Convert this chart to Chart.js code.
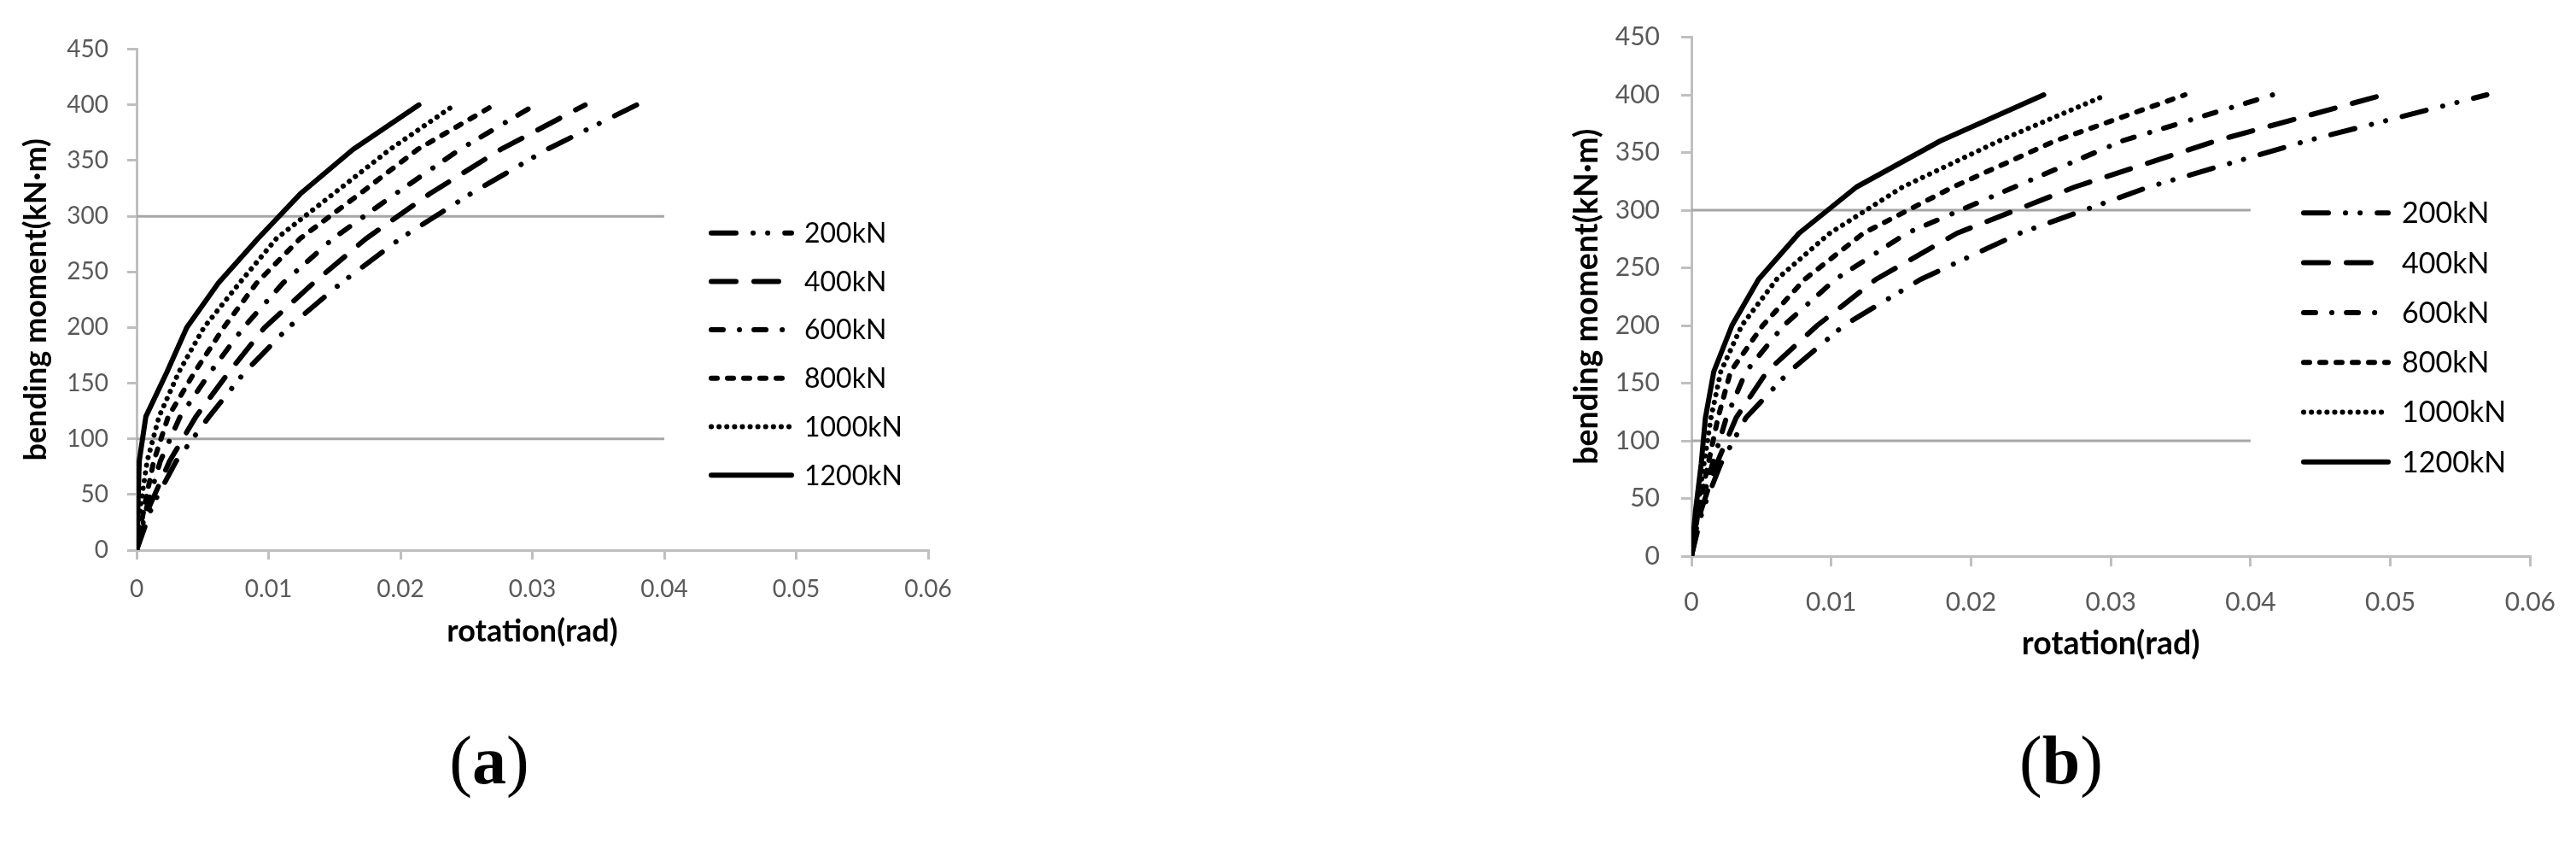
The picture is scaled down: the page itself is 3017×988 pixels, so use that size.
<!DOCTYPE html>
<html>
<head>
<meta charset="utf-8">
<script src="https://cdn.jsdelivr.net/npm/chart.js@4.4.1/dist/chart.umd.min.js"></script>
<style>
  html, body { margin: 0; padding: 0; background: #fff; }
  #page { position: relative; width: 3017px; height: 988px; overflow: hidden; background: #fff; }
  canvas { position: absolute; }
  .tag { position: absolute; font-family: 'Liberation Serif', serif; font-size: 80px; line-height: 1; transform: translate(-50%, -50%); color: #000; }
</style>
</head>
<body>
<div id="page">
  <canvas id="chartA" width="1160" height="770" style="left:0;top:0;width:1160px;height:770px"></canvas>
  <canvas id="chartB" width="1197" height="790" style="left:1820px;top:0;width:1197px;height:790px"></canvas>
  <div class="tag" style="left:573px;top:890px">(<b>a</b>)</div>
  <div class="tag" style="left:2414px;top:890px">(<b>b</b>)</div>
</div>
<script>
// bending moment levels shared by every curve (kN·m)
const momentLevels = [0, 40, 80, 120, 160, 200, 240, 280, 320, 360, 400];
const loadLabels = ['200kN', '400kN', '600kN', '800kN', '1000kN', '1200kN'];

// rotation (rad)
const rotA200 = [0, 0.0012, 0.0030, 0.0055, 0.0082, 0.0115, 0.0155, 0.0200, 0.0253, 0.0311, 0.0379];
const rotA400 = [0, 0.0010, 0.0025, 0.0045, 0.0070, 0.0097, 0.0134, 0.0174, 0.0222, 0.0276, 0.0340];
const rotA600 = [0, 0.0008, 0.0018, 0.0033, 0.0056, 0.0081, 0.0111, 0.0149, 0.0196, 0.0245, 0.0302];
const rotA800 = [0, 0.0006, 0.0013, 0.0024, 0.0044, 0.0066, 0.0091, 0.0124, 0.0169, 0.0213, 0.0271];
const rotA1000 = [0, 0.0003, 0.0008, 0.0017, 0.0032, 0.0051, 0.0078, 0.0106, 0.0149, 0.0192, 0.0241];
const rotA1200 = [0, 0.0001, 0.0002, 0.0007, 0.0023, 0.0038, 0.0062, 0.0092, 0.0124, 0.0164, 0.0214];

// rotation (rad)
const rotB200 = [0, 0.0008, 0.0021, 0.0039, 0.0070, 0.0109, 0.0164, 0.0235, 0.0327, 0.0440, 0.0569];
const rotB400 = [0, 0.0007, 0.0018, 0.0032, 0.0054, 0.0090, 0.0132, 0.0190, 0.0274, 0.0375, 0.0495];
const rotB600 = [0, 0.0006, 0.0015, 0.0025, 0.0039, 0.0066, 0.0103, 0.0154, 0.0231, 0.0308, 0.0416];
const rotB800 = [0, 0.0005, 0.0012, 0.0019, 0.0028, 0.0051, 0.0081, 0.0123, 0.0187, 0.0260, 0.0353];
const rotB1000 = [0, 0.0004, 0.0009, 0.0014, 0.0021, 0.0036, 0.0061, 0.0099, 0.0151, 0.0220, 0.0297];
const rotB1200 = [0, 0.0003, 0.0007, 0.0010, 0.0016, 0.0029, 0.0048, 0.0077, 0.0118, 0.0178, 0.0252];

// the two grey reference lines and where they stop
const gridMoments = [100, 300];
const gridEndRotation = 0.04;

const xTickValues = [0, 0.01, 0.02, 0.03, 0.04, 0.05, 0.06];
const xTickLabels = ['0', '0.01', '0.02', '0.03', '0.04', '0.05', '0.06'];
const yTickValues = [0, 50, 100, 150, 200, 250, 300, 350, 400, 450];
const yTickLabels = ['0', '50', '100', '150', '200', '250', '300', '350', '400', '450'];

// line styles per load (round caps, 6px)
const lineDash = [[29, 20, 0.1, 17, 0.1, 20], [29, 21], [14, 19, 0.1, 17], [7, 12], [0.1, 9], []];

Chart.defaults.font.family = 'Lato';
Chart.defaults.color = '#595959';

// legend drawn inside the plot, using each dataset's own line style
const insetLegend = {
  id: 'insetLegend',
  afterDraw(chart, args, o) {
    const ctx = chart.ctx;
    const sets = chart.data.datasets.filter(d => d.label);
    ctx.save();
    sets.forEach((ds, i) => {
      const y = o.y + i * o.step;
      ctx.beginPath();
      ctx.setLineDash(ds.borderDash || []);
      ctx.lineCap = ds.borderCapStyle || 'butt';
      ctx.lineWidth = ds.borderWidth;
      ctx.strokeStyle = ds.borderColor;
      ctx.moveTo(o.x, y);
      ctx.lineTo(o.x + o.len, y);
      ctx.stroke();
      ctx.setLineDash([]);
      ctx.fillStyle = '#000';
      ctx.font = o.font + 'px Lato';
      ctx.textAlign = 'left';
      ctx.textBaseline = 'middle';
      ctx.fillText(ds.label, o.textX, y + 1);
    });
    ctx.restore();
  }
};

function buildSets(rotations) {
  const sets = rotations.map((rot, i) => ({
    label: loadLabels[i],
    data: rot.map((x, k) => ({ x: x, y: momentLevels[k] })),
    showLine: true,
    borderColor: '#000',
    backgroundColor: '#000',
    borderWidth: 6,
    borderDash: lineDash[i],
    borderCapStyle: 'round',
    borderJoinStyle: 'round',
    pointRadius: 0,
    tension: 0,
    order: 1
  }));
  gridMoments.forEach(m => {
    sets.push({
      label: '',
      data: [{ x: 0, y: m }, { x: gridEndRotation, y: m }],
      showLine: true,
      borderColor: '#a6a6a6',
      borderWidth: 3,
      pointRadius: 0,
      order: 2
    });
  });
  return sets;
}

function makeChart(id, rotations, c) {
  const axisGrey = '#bfbfbf';
  return new Chart(document.getElementById(id), {
    type: 'scatter',
    data: { datasets: buildSets(rotations) },
    plugins: [insetLegend],
    options: {
      responsive: false,
      animation: false,
      devicePixelRatio: 1,
      events: [],
      layout: { padding: { left: 0, top: c.padTop, right: c.padRight, bottom: 0 } },
      plugins: {
        tooltip: { enabled: false },
        legend: { display: false },
        insetLegend: c.legend
      },
      scales: {
        x: {
          type: 'linear',
          min: 0,
          max: 0.06,
          afterBuildTicks: s => { s.ticks = xTickValues.map(v => ({ value: v })); },
          afterFit: s => { s.height = c.xAxisH; },
          ticks: {
            autoSkip: false, maxRotation: 0, padding: c.xTickPad,
            color: '#595959', font: { size: c.tickFont },
            callback: (v, i) => xTickLabels[i]
          },
          grid: { drawOnChartArea: false, drawTicks: true, tickLength: c.tickLen, color: axisGrey, lineWidth: 3 },
          border: { display: true, color: axisGrey, width: 3 },
          title: {
            display: true, text: 'rotation(rad)', color: '#000',
            font: { size: c.titleFont, weight: 'bold' },
            padding: { top: 0, bottom: c.xTitlePad }
          }
        },
        y: {
          type: 'linear',
          min: 0,
          max: 450,
          afterBuildTicks: s => { s.ticks = yTickValues.map(v => ({ value: v })); },
          afterFit: s => { s.width = c.yAxisW; },
          ticks: {
            padding: c.yTickPad, color: '#595959', font: { size: c.tickFont },
            callback: (v, i) => yTickLabels[i]
          },
          grid: { drawOnChartArea: false, drawTicks: true, tickLength: c.tickLen, color: axisGrey, lineWidth: 3 },
          border: { display: true, color: axisGrey, width: 3 },
          title: {
            display: true, text: 'bending moment(kN·m)', color: '#000',
            font: { size: c.titleFont, weight: 'bold' },
            padding: { top: c.yTitlePad, bottom: 0 }
          }
        }
      }
    }
  });
}

makeChart('chartA', [rotA200, rotA400, rotA600, rotA800, rotA1000, rotA1200], {
  padTop: 57.7, padRight: 73, yAxisW: 160, xAxisH: 126,
  tickFont: 28, tickLen: 11, xTickPad: 18, yTickPad: 22,
  titleFont: 36, xTitlePad: 9, yTitlePad: 21,
  legend: { x: 833, len: 94, textX: 942, y: 272.7, step: 56.7, font: 32 }
});

makeChart('chartB', [rotB200, rotB400, rotB600, rotB800, rotB1000, rotB1200], {
  padTop: 43.5, padRight: 52, yAxisW: 161, xAxisH: 139,
  tickFont: 30, tickLen: 12, xTickPad: 24, yTickPad: 25,
  titleFont: 37.5, xTitlePad: 14, yTitlePad: 16,
  legend: { x: 878, len: 99, textX: 993, y: 249.3, step: 58.3, font: 34 }
});
</script>
</body>
</html>
